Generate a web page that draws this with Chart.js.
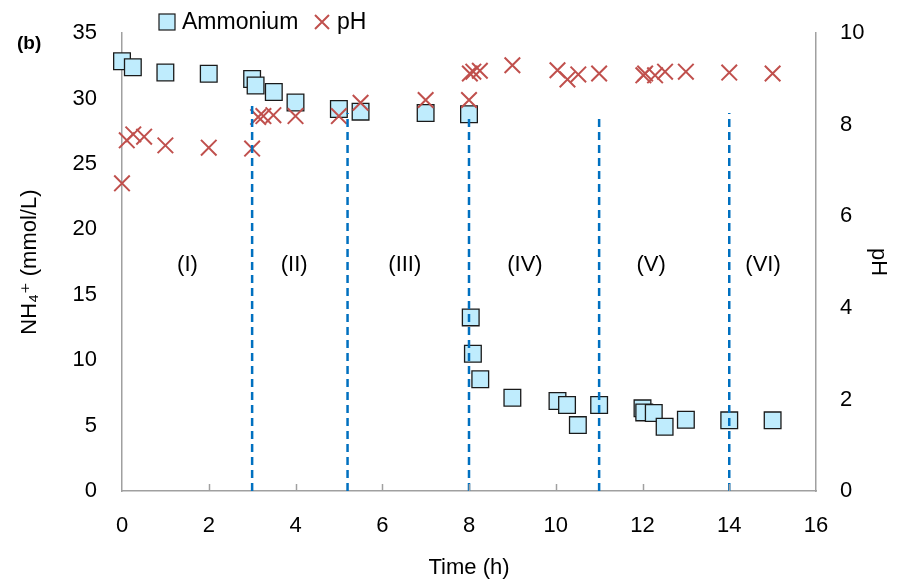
<!DOCTYPE html>
<html>
<head>
<meta charset="utf-8">
<script src="https://cdn.jsdelivr.net/npm/chart.js@4/dist/chart.umd.min.js"></script>
<style>
  html, body { margin: 0; padding: 0; background: #fff; }
  #wrap { width: 898px; height: 586px; position: relative; }
</style>
</head>
<body>
<div id="wrap"><canvas id="c" width="898" height="586"></canvas></div>
<script>
// ---- data ----
const ammoniumTime = [0, 0.25, 1, 2, 3, 3.08, 3.5, 4, 5, 5.5, 7, 8, 8.04, 8.09, 8.26, 9, 10.04, 10.26, 10.51, 11, 12, 12.04, 12.26, 12.51, 13, 14, 15];
const ammoniumValues = [32.86, 32.4, 32.0, 31.9, 31.5, 31.0, 30.5, 29.7, 29.2, 29.0, 28.9, 28.8, 13.27, 10.49, 8.54, 7.13, 6.88, 6.57, 5.04, 6.57, 6.32, 6.01, 5.96, 4.91, 5.45, 5.40, 5.40];

const pHTime = [0, 0.11, 0.26, 0.51, 1, 2, 3, 3.14, 3.26, 3.49, 4, 5, 5.5, 7, 8, 8.02, 8.1, 8.25, 9, 10.04, 10.27, 10.52, 11, 12.02, 12.06, 12.29, 12.52, 13, 14, 15];
const pHValues = [6.72, 7.66, 7.79, 7.74, 7.55, 7.50, 7.48, 8.17, 8.19, 8.21, 8.19, 8.19, 8.48, 8.54, 8.54, 9.12, 9.16, 9.18, 9.30, 9.19, 8.99, 9.10, 9.12, 9.08, 9.12, 9.08, 9.16, 9.16, 9.14, 9.12];

const dividerTimes = [3, 5.2, 8, 11, 14];
const dividerTops = [29.5, 28.9, 28.5, 28.7, 28.9];

const phaseLabels = ['(I)', '(II)', '(III)', '(IV)', '(V)', '(VI)'];
const phaseLabelTimes = [1.51, 3.97, 6.52, 9.29, 12.2, 14.78];
const phaseLabelLevel = 17.3;

const xTickValues = [0, 2, 4, 6, 8, 10, 12, 14, 16];
const seriesNames = ['Ammonium', 'pH'];
const panelTag = '(b)';
const xTitle = 'Time (h)';
const yLeftTitle = 'NH\u2084\u207A (mmol/L)';
const yRightTitle = 'pH';

// ---- styles ----
const FONT = "'Liberation Sans', Arial, 'DejaVu Sans', sans-serif";
const SQ_FILL = '#bfecfd';
const SQ_EDGE = '#1a1a1a';
const RED = '#c0504d';
const BLUE = '#0070c0';
const AXIS = '#a0a0a0';

const ammoniumPts = ammoniumTime.map((t, i) => ({ x: t, y: ammoniumValues[i] }));
const pHPts = pHTime.map((t, i) => ({ x: t, y: pHValues[i] }));

const dividerSets = dividerTimes.map((t, i) => ({
  type: 'line',
  label: 'divider' + i,
  data: [{ x: t, y: 0 }, { x: t, y: dividerTops[i] }],
  yAxisID: 'y',
  borderColor: BLUE,
  borderWidth: 2.5,
  borderDash: [8, 5],
  pointRadius: 0,
  fill: false,
  order: 0,
  clip: false
}));

const extras = {
  id: 'extras',
  afterDraw(chart) {
    const ctx = chart.ctx;
    const xs = chart.scales.x, ys = chart.scales.y;
    ctx.save();
    // inward x tick marks
    ctx.strokeStyle = AXIS;
    ctx.lineWidth = 1.5;
    xTickValues.slice(1, -1).forEach(v => {
      const px = Math.round(xs.getPixelForValue(v)) + 0.5;
      ctx.beginPath();
      ctx.moveTo(px, ys.bottom);
      ctx.lineTo(px, ys.bottom - 7);
      ctx.stroke();
    });
    // phase labels
    ctx.fillStyle = '#000';
    ctx.font = '22px ' + FONT;
    ctx.textAlign = 'center';
    ctx.textBaseline = 'middle';
    phaseLabels.forEach((lab, i) => {
      ctx.fillText(lab, xs.getPixelForValue(phaseLabelTimes[i]), ys.getPixelForValue(phaseLabelLevel));
    });
    // panel tag
    ctx.font = 'bold 19px ' + FONT;
    ctx.textAlign = 'left';
    ctx.fillText(panelTag, 17, 44);
    // legend
    const ly = 22;
    ctx.fillStyle = SQ_FILL;
    ctx.strokeStyle = SQ_EDGE;
    ctx.lineWidth = 1.2;
    ctx.fillRect(159, ly - 8, 16, 16);
    ctx.strokeRect(159, ly - 8, 16, 16);
    ctx.fillStyle = '#000';
    ctx.font = '23px ' + FONT;
    ctx.textAlign = 'left';
    ctx.fillText(seriesNames[0], 182, ly + 1);
    ctx.strokeStyle = RED;
    ctx.lineWidth = 2;
    ctx.beginPath();
    ctx.moveTo(315, ly - 7); ctx.lineTo(329, ly + 7);
    ctx.moveTo(329, ly - 7); ctx.lineTo(315, ly + 7);
    ctx.stroke();
    ctx.fillText(seriesNames[1], 337, ly + 1);
    ctx.restore();
  }
};

const hiddenTickGrid = { display: true, drawOnChartArea: false, drawTicks: true, tickLength: 5, tickColor: 'rgba(0,0,0,0)' };

new Chart(document.getElementById('c'), {
  type: 'scatter',
  data: {
    datasets: [
      ...dividerSets,
      {
        label: seriesNames[1],
        data: pHPts,
        yAxisID: 'y1',
        pointStyle: 'crossRot',
        pointRadius: 11,
        pointHoverRadius: 11,
        borderColor: RED,
        backgroundColor: RED,
        pointBorderWidth: 2,
        order: 1,
        clip: false
      },
      {
        label: seriesNames[0],
        data: ammoniumPts,
        yAxisID: 'y',
        pointStyle: 'rect',
        pointRadius: 11.8,
        pointHoverRadius: 11.8,
        backgroundColor: SQ_FILL,
        borderColor: SQ_EDGE,
        pointBorderWidth: 1.3,
        order: 2,
        clip: false
      }
    ]
  },
  options: {
    responsive: false,
    animation: false,
    events: [],
    layout: { padding: { top: 33, left: 0, right: 0, bottom: 0 } },
    plugins: { legend: { display: false }, tooltip: { enabled: false } },
    scales: {
      x: {
        type: 'linear',
        min: 0, max: 16,
        afterBuildTicks: s => { s.ticks = xTickValues.map(v => ({ value: v })); },
        ticks: { color: '#000', font: { family: FONT, size: 22 }, padding: 22, maxRotation: 0 },
        grid: { display: false, drawTicks: false },
        border: { display: true, color: AXIS, width: 1.5 },
        title: { display: true, text: xTitle, color: '#000', font: { family: FONT, size: 22 }, padding: 5 },
        afterFit: s => { s.height = 95; }
      },
      y: {
        position: 'left',
        min: 0, max: 35,
        ticks: { stepSize: 5, color: '#000', font: { family: FONT, size: 22 }, padding: 20 },
        grid: hiddenTickGrid,
        border: { display: true, color: AXIS, width: 1.5 },
        title: { display: true, text: yLeftTitle, color: '#000', font: { family: FONT, size: 22 }, padding: 17 },
        afterFit: s => { s.width = 122; }
      },
      y1: {
        position: 'right',
        min: 0, max: 10,
        ticks: { stepSize: 2, color: '#000', font: { family: FONT, size: 22 }, padding: 19 },
        grid: hiddenTickGrid,
        border: { display: true, color: AXIS, width: 1.5 },
        title: { display: true, text: yRightTitle, color: '#000', font: { family: FONT, size: 22 }, padding: 7 },
        afterFit: s => { s.width = 82; }
      }
    }
  },
  plugins: [extras]
});
</script>
</body>
</html>
